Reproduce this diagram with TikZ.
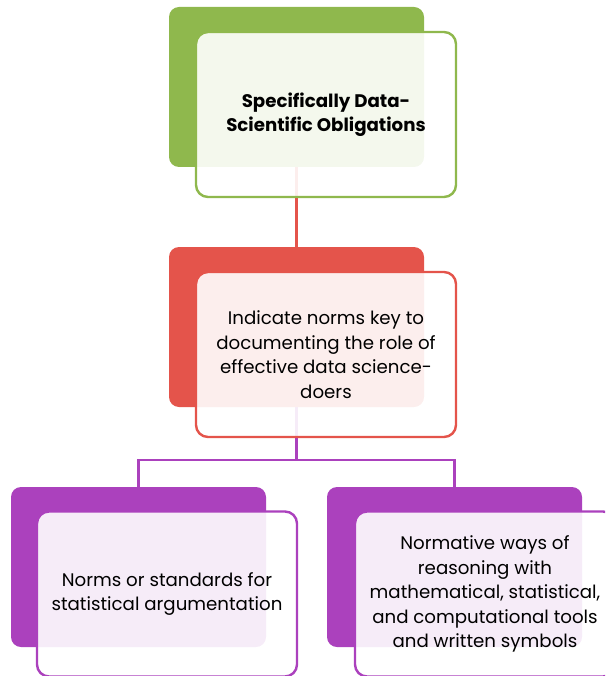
\documentclass[tikz,border=0pt]{standalone}
\usepackage{fontspec}
\setmainfont{Poppins}
\usetikzlibrary{calc}
\definecolor{grn}{HTML}{8FB84D}
\definecolor{rd}{HTML}{E4544B}
\definecolor{prp}{HTML}{AB41BD}
\tikzset{
  backbox/.style={rounded corners=10pt, fill=#1, minimum width=255pt, minimum height=160pt, inner sep=0pt},
  frontbox/.style={rounded corners=12pt, draw=#1, line width=2.4pt, fill=white, fill opacity=0.9, text opacity=1,
    minimum width=260pt, minimum height=165pt, inner sep=0pt, align=center,
    font=\fontsize{18.2}{24.5}\selectfont},
  link/.style={line width=2.4pt, draw=#1}
}
\begin{document}
\begin{tikzpicture}[x=1pt,y=1pt]
\useasboundingbox (0,0) rectangle (605,-676);
\clip (0,0) rectangle (605,-676);
% solid back panels
\node[backbox=grn] (tb) at (296.5,-87) {};
\node[backbox=rd]  (mb) at (296.5,-327) {};
\node[backbox=prp] (lb) at (138.5,-567) {};
\node[backbox=prp] (rb) at (454.5,-567) {};
% connectors
\coordinate (j) at (296.5,-460);
\draw[link=rd] (tb.south) -- (mb.north);
\draw[link=prp] (mb.south) -- (j);
\draw[link=prp] (j) -| (lb.north);
\draw[link=prp] (j) -| (rb.north);
% translucent panels in front
\node[frontbox=grn] (tf) at (326,-114.5) {\bfseries Specifically Data-\\\bfseries Scientific Obligations};
\node[frontbox=rd]  (mf) at (326,-354.5) {Indicate norms key to\\documenting the role of\\effective data science-\\doers};
\node[frontbox=prp] (lf) at (167,-594) {Norms or standards for\\statistical argumentation};
\node[frontbox=prp] (rf) at (485,-594) {Normative ways of\\reasoning with\\mathematical, statistical,\\and computational tools\\and written symbols};
\end{tikzpicture}
\end{document}
